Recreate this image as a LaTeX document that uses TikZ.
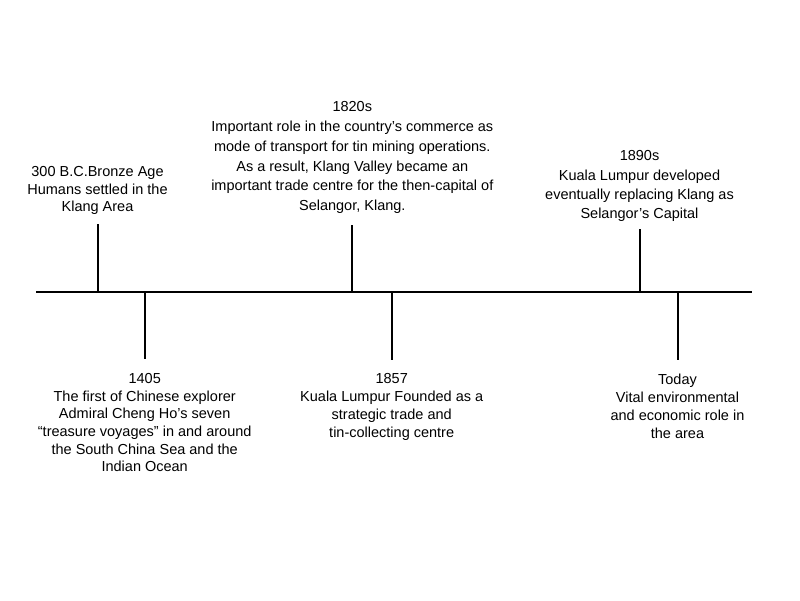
\documentclass[tikz,border=0pt]{standalone}
\usepackage{fontspec}
\setmainfont{Liberation Sans}
\begin{document}
\begin{tikzpicture}[x=1pt,y=-1pt,line width=2pt,
  lbl/.style={align=center,inner sep=0pt,anchor=north,font=\fontsize{14.5}{#1}\selectfont},
  lbl/.default=17.6,
  tick/.style={draw,line width=2pt}]
\useasboundingbox (0,0) rectangle (800,600);
% main axis
\coordinate (L) at (36,292.3);
\coordinate (R) at (752,292.3);
\draw[tick] (L) -- (R);
% tick points on axis and free ends
\coordinate (a1) at (97.5,292.3);  \coordinate (e1) at (97.5,224);
\coordinate (a2) at (144.7,292.3); \coordinate (e2) at (144.7,359);
\coordinate (a3) at (352.3,292.3); \coordinate (e3) at (352.3,225);
\coordinate (a4) at (391.7,292.3); \coordinate (e4) at (391.7,360);
\coordinate (a5) at (639.5,292.3); \coordinate (e5) at (639.5,229);
\coordinate (a6) at (677.5,292.3); \coordinate (e6) at (677.5,360);
\draw[tick] (a1) -- (e1);
\draw[tick] (a2) -- (e2);
\draw[tick] (a3) -- (e3);
\draw[tick] (a4) -- (e4);
\draw[tick] (a5) -- (e5);
\draw[tick] (a6) -- (e6);
% labels
\node[lbl=17.4] (t1) at (97.5,165.5) {300 B.C.Bronze Age\\Humans settled in the\\Klang Area};
\node[lbl=19.8] (t3) at (352.3,100.5) {1820s\\Important role in the country’s commerce as\\mode of transport for tin mining operations.\\As a result, Klang Valley became an\\important trade centre for the then-capital of\\Selangor, Klang.};
\node[lbl=19.3] (t5) at (639.5,149.6) {1890s\\Kuala Lumpur developed\\eventually replacing Klang as\\Selangor’s Capital};
\node[lbl=17.7] (t2) at (144.7,372.3) {1405\\The first of Chinese explorer\\Admiral Cheng Ho’s seven\\“treasure voyages” in and around\\the South China Sea and the\\Indian Ocean};
\node[lbl=18] (t4) at (391.7,372.8) {1857\\Kuala Lumpur Founded as a\\strategic trade and\\tin-collecting centre};
\node[lbl=18] (t6) at (677.5,372.8) {Today\\Vital environmental\\and economic role in\\the area};
\end{tikzpicture}
\end{document}
